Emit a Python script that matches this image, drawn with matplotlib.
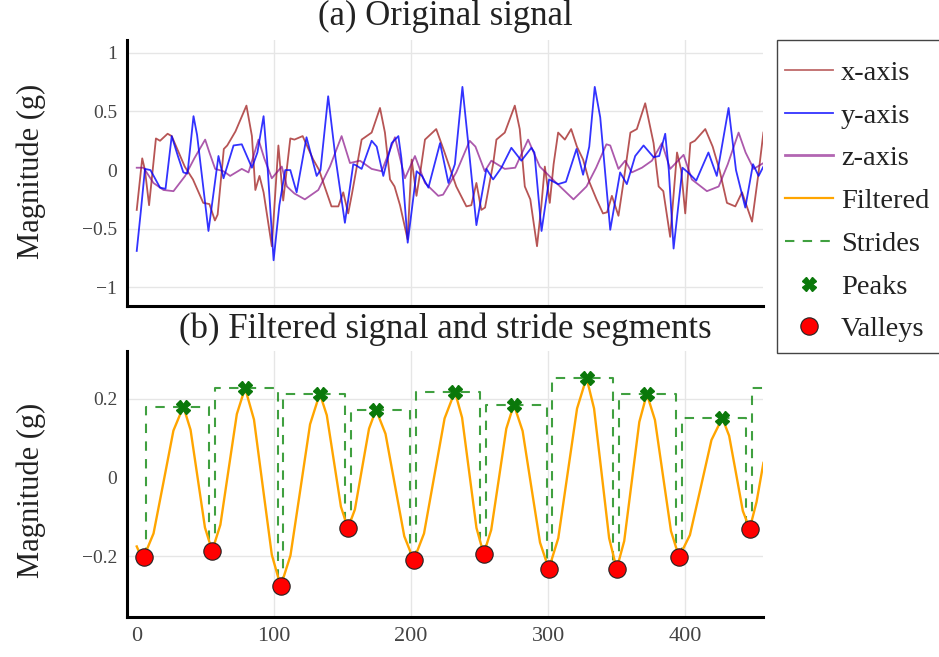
import matplotlib
matplotlib.use("Agg")
import matplotlib.pyplot as plt
from matplotlib.lines import Line2D
from matplotlib.patches import Rectangle

plt.rcParams['font.family'] = ['Liberation Serif', 'DejaVu Serif']

# ---------------- data ----------------
x_axis_t = [0, 4, 6, 9, 14, 17, 22.5, 25.5, 35, 41, 48.5, 53, 57, 59, 63.5, 66, 72, 80, 84, 86.5,
            89.5, 92.5, 98.5, 103.3, 106.8, 112, 115, 121, 128.7, 133, 137, 142, 147, 150.6, 154.2,
            157, 164, 171.3, 177.4, 181, 184.7, 188, 192, 197.5, 200.5, 204, 207, 210.2, 218.4,
            224.5, 228, 233, 240.4, 244, 247.7, 251.3, 254, 260, 262.3, 268.4, 275.7, 279.3, 283,
            287, 291.9, 295, 297.6, 301.2, 304, 307.3, 312.2, 316.8, 321, 325.5, 330, 335.3, 340,
            343, 346.5, 351.3, 355, 360, 364.7, 370.8, 376.9, 380.6, 384, 389, 394, 397, 400,
            403.7, 407, 414.6, 420, 425, 430.4, 436.5, 441.4, 448.7, 453.5, 457]
x_axis_v = [-0.34, 0.10, 0.0, -0.30, 0.27, 0.25, 0.31, 0.29, 0.03, -0.08, -0.28, -0.29, -0.43, -0.38,
            0.18, 0.21, 0.33, 0.55, 0.29, -0.17, -0.05, -0.19, -0.65, 0.21, -0.26, 0.27, 0.26, 0.29,
            0.09, 0.0, -0.14, -0.31, -0.31, -0.19, -0.37, -0.2, 0.26, 0.32, 0.53, 0.32, -0.08, -0.14,
            -0.3, -0.59, 0.09, -0.22, 0.0, 0.26, 0.35, 0.15, 0.03, -0.14, -0.31, -0.3, -0.11, -0.34,
            -0.32, 0.06, 0.26, 0.32, 0.55, 0.35, -0.14, -0.25, -0.65, -0.31, 0.03, -0.28, 0.05, 0.32,
            0.26, 0.35, 0.2, 0.09, -0.1, -0.25, -0.37, -0.36, -0.22, -0.39, -0.1, 0.32, 0.35, 0.57,
            0.23, -0.14, -0.18, -0.57, 0.15, 0.0, -0.37, 0.23, 0.25, 0.35, 0.2, 0.0, -0.28, -0.31,
            -0.19, -0.44, -0.02, 0.32]

y_axis_t = [0, 3, 6, 10, 17, 21, 25.5, 30, 34, 37, 41.4, 44, 52.3, 59.6, 63.3, 70.6, 76.6, 84, 88,
            92.5, 95, 99.8, 104, 108.3, 112, 116.6, 123.8, 131.2, 134, 139.6, 145, 151.8, 157.9,
            160, 164, 171.3, 175, 179.8, 185.9, 190.8, 193, 197.6, 204.1, 208, 212.7, 221.2, 227.3,
            232, 237.5, 242, 247.7, 255, 259.9, 265.9, 273.2, 280.5, 287.8, 290, 295.2, 300.7,
            307.3, 313, 320.7, 325.5, 330, 334, 338, 345.3, 352.5, 357.4, 363.5, 369.6, 376.9, 381,
            385.4, 388, 391.5, 398, 402, 408, 416.9, 423, 431.6, 437, 443.8, 449.4, 453.5, 457]
y_axis_v = [-0.69, -0.35, 0.01, 0.0, -0.15, -0.16, 0.29, 0.12, -0.02, -0.03, 0.46, 0.3, -0.52, 0.12,
            -0.07, 0.21, 0.22, 0.02, 0.15, 0.46, 0.1, -0.77, -0.3, 0.0, 0.0, -0.19, 0.28, -0.05, 0.0,
            0.63, 0.1, -0.45, 0.05, 0.04, 0.01, 0.25, 0.2, -0.05, 0.23, 0.29, 0.1, -0.62, -0.01,
            -0.05, -0.15, 0.23, -0.11, 0.05, 0.71, 0.2, -0.47, 0.01, -0.08, 0.02, 0.19, 0.08, 0.19,
            0.15, -0.52, -0.08, -0.12, -0.1, 0.18, -0.04, 0.2, 0.71, 0.45, -0.51, -0.02, -0.12, 0.12,
            0.21, 0.11, 0.12, 0.31, 0.0, -0.67, 0.02, -0.02, -0.09, 0.15, -0.05, 0.53, 0.0, -0.32,
            0.05, -0.05, 0.03]

z_axis_t = [0, 5, 12.2, 19.5, 26.8, 35.3, 42, 49.9, 53, 57.2, 63.3, 68.1, 76.6, 81.5, 88.8, 93, 98.5,
            105.8, 109.5, 115, 122.6, 132.4, 140.9, 149.4, 155.5, 162.8, 171.3, 178.6, 188.3, 195.6,
            202.9, 210.2, 219.9, 223.4, 233, 242.8, 247, 253.8, 258.6, 268.4, 276, 285.4, 293.9,
            306, 318.5, 328, 335, 342.5, 345.3, 351.3, 356.2, 361, 368.4, 375.7, 383, 389, 398.8,
            404.8, 415.8, 424.4, 431, 438.9, 444, 449.9, 457]
z_axis_v = [0.02, 0.02, -0.11, -0.17, -0.18, -0.05, 0.1, 0.26, 0.15, 0.01, -0.01, -0.05, 0.01, -0.02,
            0.26, 0.1, -0.07, 0.03, -0.14, -0.2, -0.25, -0.17, 0.03, 0.29, 0.06, 0.08, 0.01, -0.01,
            0.28, -0.07, 0.12, -0.11, -0.22, -0.21, -0.02, 0.25, 0.2, -0.01, 0.08, 0.01, 0.02, 0.26,
            0.03, -0.11, -0.25, -0.14, 0.02, 0.22, 0.21, 0.01, 0.08, -0.02, 0.02, 0.08, 0.23, 0.01,
            0.13, -0.08, -0.18, -0.14, 0.05, 0.32, 0.15, 0.01, 0.06]

filt_t = [0, 2.5, 5, 12.25, 19.5, 26.75, 34, 39.25, 44.5, 49.75, 55, 61, 67, 73, 79, 85.5, 92, 98.5,
          105, 112.1, 119.25, 126.4, 133.5, 138.6, 143.75, 148.9, 154, 159.1, 164.25, 169.4, 174.5,
          181.4, 188.25, 195.1, 202, 209.5, 217, 224.5, 232, 237.25, 242.5, 247.75, 253, 258.5, 264,
          269.5, 275, 281.4, 287.75, 294.1, 300.5, 307.4, 314.25, 321.1, 328, 333.5, 339, 344.5,
          350, 355.5, 361, 366.5, 372, 377.9, 383.75, 389.6, 395.5, 403.4, 411.25, 419.1, 427, 432,
          437, 442, 447, 452, 457]
filt_v = [-0.175, -0.195, -0.203, -0.142, -0.012, 0.119, 0.180, 0.121, -0.003, -0.127, -0.186,
          -0.120, 0.021, 0.161, 0.227, 0.147, -0.025, -0.196, -0.276, -0.198, -0.032, 0.135, 0.213,
          0.158, 0.042, -0.074, -0.129, -0.081, 0.022, 0.124, 0.172, 0.111, -0.019, -0.149, -0.210,
          -0.142, 0.004, 0.150, 0.218, 0.152, 0.012, -0.128, -0.194, -0.133, -0.005, 0.124, 0.185,
          0.118, -0.024, -0.165, -0.232, -0.154, 0.011, 0.175, 0.253, 0.175, 0.011, -0.154, -0.232,
          -0.161, -0.010, 0.141, 0.212, 0.146, 0.005, -0.136, -0.202, -0.146, -0.026, 0.095, 0.151,
          0.106, 0.011, -0.085, -0.130, -0.062, 0.037]

peak_t = [34, 79, 133.5, 174.5, 232, 275, 328, 372, 427]
peak_v = [0.180, 0.227, 0.213, 0.172, 0.218, 0.185, 0.253, 0.212, 0.151]

valley_t = [5, 55, 105, 154, 202, 253, 300.5, 350, 395.5, 447]
valley_v = [-0.203, -0.186, -0.276, -0.129, -0.210, -0.194, -0.232, -0.232, -0.202, -0.130]

stride_t0 = [7, 57, 107, 156, 204, 254.5, 302.5, 351.5, 397.5, 449]
stride_t1 = [52.5, 103, 152, 199.5, 250, 299, 347, 393.5, 444.5, 480]
stride_top = [0.180, 0.227, 0.213, 0.172, 0.218, 0.185, 0.253, 0.212, 0.151, 0.227]
stride_v0 = [-0.203, -0.186, -0.276, -0.129, -0.210, -0.194, -0.232, -0.232, -0.202, -0.130]
stride_v1 = [-0.186, -0.276, -0.129, -0.210, -0.194, -0.232, -0.232, -0.202, -0.130, -0.20]

x_ticks = [0, 100, 200, 300, 400]
x_tick_labels = ['0', '100', '200', '300', '400']
top_yticks = [-1, -0.5, 0, 0.5, 1]
top_ytick_labels = ['\u22121', '\u22120.5', '0', '0.5', '1']
bot_yticks = [-0.2, 0, 0.2]
bot_ytick_labels = ['\u22120.2', '0', '0.2']

# ---------------- figure ----------------
W, H = 939, 657
fig = plt.figure(figsize=(W / 100, H / 100), dpi=100)
fig.patch.set_facecolor('white')

L, R = 127, 763
ax1 = fig.add_axes([L / W, 1 - 306 / H, (R - L) / W, (306 - 40) / H])
ax2 = fig.add_axes([L / W, 1 - 617 / H, (R - L) / W, (617 - 351) / H])

grid_c = '#e6e6e6'
for ax in (ax1, ax2):
    ax.set_xlim(-7.1, 456.7)
    for s in ('top', 'right'):
        ax.spines[s].set_visible(False)
    for s in ('left', 'bottom'):
        ax.spines[s].set_linewidth(2.2)
        ax.spines[s].set_color('black')
    ax.tick_params(length=0, labelcolor='#444444', pad=7)
    ax.tick_params(axis='y', labelsize=14)
    ax.tick_params(axis='x', labelsize=16)
    ax.set_xticks(x_ticks)
    for v in x_ticks:
        if v != 0:
            ax.axvline(v, color=grid_c, lw=1.0, zorder=0)

ax1.set_ylim(-1.16, 1.11)
ax1.set_yticks(top_yticks)
ax1.set_yticklabels(top_ytick_labels)
ax1.set_xticklabels([])
for v in top_yticks:
    if v != 0:
        ax1.axhline(v, color=grid_c, lw=1.0, zorder=0)

ax2.set_ylim(-0.354, 0.321)
ax2.set_yticks(bot_yticks)
ax2.set_yticklabels(bot_ytick_labels)
ax2.set_xticklabels(x_tick_labels)
for v in bot_yticks:
    if v != 0:
        ax2.axhline(v, color=grid_c, lw=1.0, zorder=0)

# top panel
ax1.plot(x_axis_t, x_axis_v, color='brown', alpha=0.8, lw=1.3, zorder=2)
ax1.plot(y_axis_t, y_axis_v, color='blue', alpha=0.8, lw=1.3, zorder=3)
ax1.plot(z_axis_t, z_axis_v, color='purple', alpha=0.65, lw=1.3, zorder=2)

# bottom panel
ax2.plot(filt_t, filt_v, color='orange', lw=1.7, zorder=3)
stride_kw = dict(color='green', alpha=0.75, lw=1.5, linestyle=(0, (4.5, 4.0)), zorder=2)
for t0, t1, top, v0, v1 in zip(stride_t0, stride_t1, stride_top, stride_v0, stride_v1):
    ax2.plot([t0, t0, t1, t1], [v0, top, top, v1], **stride_kw)
ax2.plot(peak_t, peak_v, linestyle='none', marker='X', markersize=10, color='#0a780a',
         markeredgecolor='#0a780a', zorder=5)
ax2.plot(valley_t, valley_v, linestyle='none', marker='o', markersize=12.5, markerfacecolor='red',
         markeredgecolor='#222222', markeredgewidth=0.8, zorder=6)

# titles & labels
fig.text(445 / W, 1 - 16 / H, '(a) Original signal', ha='center', va='center', fontsize=25, color='#222222')
fig.text(445 / W, 1 - 329 / H, '(b) Filtered signal and stride segments', ha='center', va='center',
         fontsize=25, color='#222222')
fig.text(31 / W, 1 - 171 / H, 'Magnitude (g)', rotation=90, ha='center', va='center', fontsize=22,
         color='#222222')
fig.text(31 / W, 1 - 490 / H, 'Magnitude (g)', rotation=90, ha='center', va='center', fontsize=22,
         color='#222222')

# legend box
fig.patches.append(Rectangle((777 / W, 1 - 353 / H), 200 / W, (353 - 40) / H, transform=fig.transFigure,
                             facecolor='white', edgecolor='#444444', linewidth=1.0, zorder=1))

handles = [
    Line2D([], [], color='brown', alpha=0.7, lw=1.3),
    Line2D([], [], color='blue', alpha=0.8, lw=1.3),
    Line2D([], [], color='purple', alpha=0.6, lw=2.0),
    Line2D([], [], color='orange', lw=1.6),
    Line2D([], [], color='green', alpha=0.75, lw=1.5, linestyle=(0, (4.5, 4.0))),
    Line2D([], [], linestyle='none', marker='X', markersize=10, color='#0a780a'),
    Line2D([], [], linestyle='none', marker='o', markersize=12.5, markerfacecolor='red',
           markeredgecolor='#222222', markeredgewidth=0.8),
]
labels = ['x-axis', 'y-axis', 'z-axis', 'Filtered', 'Strides', 'Peaks', 'Valleys']
leg = fig.legend(handles, labels, loc='upper left', bbox_to_anchor=(785 / W, 1 - 60 / H),
                 fontsize=20.5, frameon=False, handlelength=1.68, handletextpad=0.28,
                 labelspacing=0.59, borderpad=0, borderaxespad=0)
leg.set_zorder(3)
for t in leg.get_texts():
    t.set_color('#222222')

fig.savefig('out.png', dpi=100)
